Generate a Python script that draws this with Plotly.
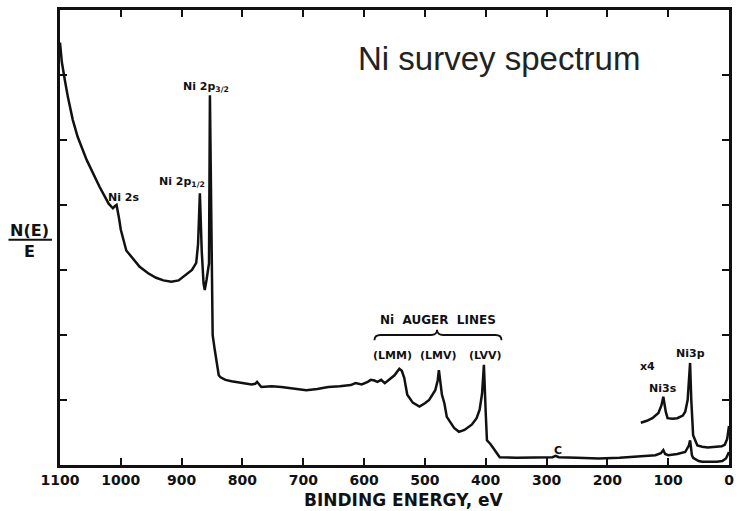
import plotly.graph_objects as go

# Main survey spectrum (binding energy eV, N(E)/E in axis units)
main_energy = [1100, 1097, 1092, 1087, 1079, 1071, 1056, 1035, 1020, 1013, 1010, 1007, 1003, 1000,
               991, 981, 969, 955, 942, 930, 917, 905, 893, 883, 876, 873, 870, 867, 864, 862,
               859, 856, 855, 853.5, 851, 849, 846, 843, 839, 836, 828, 818, 806, 795, 785, 779, 776,
               769, 752, 736, 715, 695, 677, 659, 640, 622, 614, 604, 594, 589, 583, 578, 572, 566, 558, 550, 542,
               538, 534, 529, 520, 509, 500, 493, 483, 479, 477, 474, 472, 468, 464, 452, 444,
               435, 423, 415, 410, 406, 403, 400, 398, 392, 387, 380, 377, 349, 320, 290, 285,
               280, 250, 214, 180, 150, 121, 112, 108, 105, 100, 85, 72, 66, 64, 61, 59, 50,
               44, 20, 11, 5, 2, 0]
main_value = [6.5, 6.2, 5.92, 5.66, 5.31, 5.05, 4.69, 4.28, 4.02, 3.95, 3.98, 4.0, 3.8, 3.62,
              3.3, 3.18, 3.05, 2.95, 2.88, 2.84, 2.82, 2.84, 2.92, 3.0, 3.11, 3.4, 4.18, 3.3, 2.8, 2.69,
              2.85, 3.0, 3.1, 5.69, 3.5, 2.0, 1.8, 1.6, 1.38, 1.35, 1.31, 1.29, 1.27, 1.26, 1.24, 1.25, 1.28,
              1.2, 1.21, 1.2, 1.17, 1.15, 1.17, 1.2, 1.21, 1.23, 1.26, 1.24, 1.28, 1.31, 1.30, 1.28, 1.31, 1.26, 1.32, 1.38, 1.48,
              1.45, 1.34, 1.08, 0.96, 0.9, 0.95, 1.0, 1.15, 1.3, 1.46, 1.2, 1.08, 0.95, 0.74, 0.57, 0.51,
              0.54, 0.62, 0.72, 0.85, 1.1, 1.54, 0.8, 0.38, 0.32, 0.25, 0.15, 0.12, 0.11, 0.11, 0.12, 0.14,
              0.12, 0.11, 0.10, 0.11, 0.13, 0.15, 0.18, 0.23, 0.17, 0.15, 0.17, 0.2, 0.3, 0.38, 0.15, 0.11, 0.06,
              0.05, 0.05, 0.06, 0.1, 0.15, 0.2]

# x4 expanded low-energy region
x4_energy = [145, 135, 126, 116, 111, 108, 104, 101, 93, 85, 76, 72, 68, 64, 62, 59, 52, 44, 35, 23, 12, 7, 3, 0]
x4_value = [0.65, 0.68, 0.72, 0.8, 0.92, 1.05, 0.82, 0.72, 0.71, 0.72, 0.76, 0.82, 1.0, 1.57, 1.0, 0.46,
            0.3, 0.28, 0.27, 0.28, 0.29, 0.31, 0.4, 0.6]

x_ticks = [1100, 1000, 900, 800, 700, 600, 500, 400, 300, 200, 100, 0]
y_ticks = [1, 2, 3, 4, 5, 6]

ink = "#111111"
lab_font = dict(family="DejaVu Sans", size=11, color=ink, weight="bold")

fig = go.Figure()
fig.add_trace(go.Scatter(x=main_energy, y=main_value, mode="lines",
                         line=dict(color=ink, width=2.5), showlegend=False))
fig.add_trace(go.Scatter(x=x4_energy, y=x4_value, mode="lines",
                         line=dict(color=ink, width=2.5), showlegend=False))

labels = [
    (996, 4.12, "Ni 2s", 11),
    (899, 4.35, "Ni 2p<sub>1/2</sub>", 11),
    (860, 5.82, "Ni 2p<sub>3/2</sub>", 11),
    (478, 2.23, "Ni  AUGER  LINES", 12),
    (553, 1.69, "(LMM)", 11),
    (477, 1.69, "(LMV)", 11),
    (401, 1.69, "(LVV)", 11),
    (134, 1.51, "x4", 11),
    (109, 1.18, "Ni3s", 11),
    (64, 1.72, "Ni3p", 11),
    (281, 0.23, "C", 11),
]
for lx, ly, txt, sz in labels:
    fig.add_annotation(x=lx, y=ly, text=txt, showarrow=False,
                       font=dict(family="DejaVu Sans", size=sz, color=ink, weight="bold"),
                       xanchor="center", yanchor="middle")

fig.add_annotation(x=378, y=6.25, text="Ni survey spectrum", showarrow=False,
                   font=dict(family="Liberation Sans", size=33, color="#222222"),
                   xanchor="center", yanchor="middle")

# brace over Auger lines
fig.add_shape(type="path",
              path="M 583,1.92 Q 583,2.0 573,2.0 L 490,2.0 Q 480,2.0 480,2.08 Q 480,2.0 470,2.0 L 384,2.0 Q 374,2.0 374,1.92",
              xref="x", yref="y", line=dict(color=ink, width=1.8))

# y-axis label as fraction
fig.add_annotation(xref="paper", yref="paper", x=-0.045, y=0.515, text="N(E)", showarrow=False,
                   font=dict(family="DejaVu Sans", size=16, color=ink, weight="bold"),
                   xanchor="center", yanchor="middle")
fig.add_annotation(xref="paper", yref="paper", x=-0.045, y=0.47, text="E", showarrow=False,
                   font=dict(family="DejaVu Sans", size=16, color=ink, weight="bold"),
                   xanchor="center", yanchor="middle")
fig.add_shape(type="line", xref="paper", yref="paper", x0=-0.077, x1=-0.012, y0=0.495, y1=0.495,
              line=dict(color=ink, width=2))

# x-axis title
fig.add_annotation(xref="paper", yref="paper", x=0.514, y=-0.077, text="BINDING ENERGY, eV",
                   showarrow=False, font=dict(family="DejaVu Sans", size=17, color=ink, weight="bold"),
                   xanchor="center", yanchor="middle")

fig.update_xaxes(range=[1100, 0], tickvals=x_ticks, ticktext=[str(v) for v in x_ticks],
                 ticks="inside", ticklen=7, tickwidth=2, tickcolor=ink,
                 showline=True, linewidth=2.5, linecolor=ink, mirror="ticks",
                 showgrid=False, zeroline=False,
                 tickfont=dict(family="DejaVu Sans", size=14, color=ink, weight="bold"))
fig.update_yaxes(range=[0, 7], tickvals=y_ticks, showticklabels=False,
                 ticks="inside", ticklen=7, tickwidth=2, tickcolor=ink,
                 showline=True, linewidth=2.5, linecolor=ink, mirror="ticks",
                 showgrid=False, zeroline=False)

fig.update_layout(width=740, height=511, margin=dict(l=60, r=6, t=10, b=46),
                  paper_bgcolor="white", plot_bgcolor="white")

fig.write_html("out.html")
